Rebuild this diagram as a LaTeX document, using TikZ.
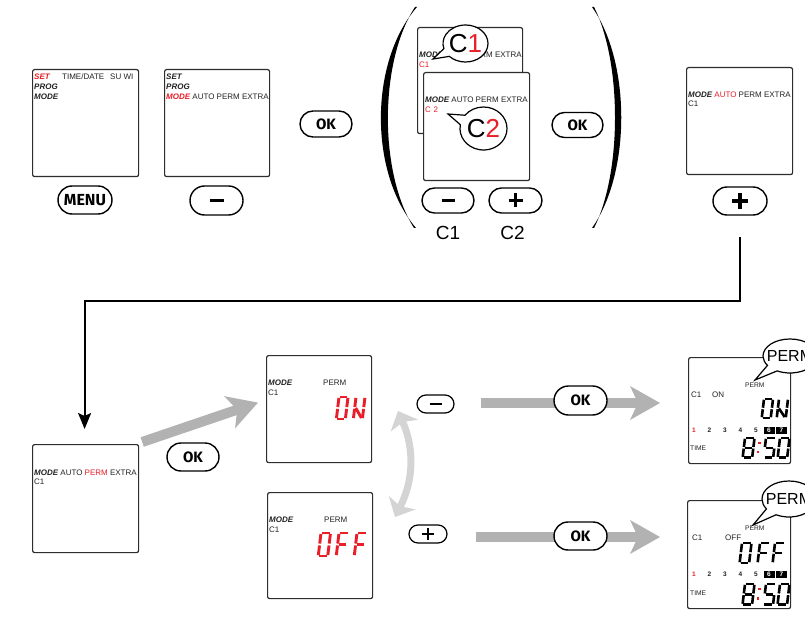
\documentclass[tikz,border=0pt]{standalone}
\usepackage{fontspec}
\setmainfont{Liberation Sans}
\newfontfamily\btnfont{Fira Sans}
\usetikzlibrary{shapes.misc,shapes.callouts,arrows.meta}
\definecolor{lcdred}{RGB}{232,30,40}
\definecolor{arrgray}{RGB}{178,178,178}
\definecolor{lightarr}{RGB}{212,212,212}
\definecolor{frame}{RGB}{45,45,45}
\definecolor{txtdark}{RGB}{35,35,35}
\newcommand{\scrfont}{\fontsize{8}{9}\selectfont}
\newcommand{\smallscr}{\fontsize{6.7}{8}\selectfont}
\newcommand{\bi}[1]{{\bfseries\itshape #1}}
\newcommand{\menufont}{\btnfont\bfseries\fontsize{16}{16}\selectfont}
\newcommand{\okfont}{\btnfont\bfseries\fontsize{15}{15}\selectfont}
% seven segment pieces (local units: width 1, height 2, y downwards)
\def\segA{\draw[seg] (0.1,0)--(0.9,0);}
\def\segB{\draw[seg] (1,0.08)--(1,0.92);}
\def\segC{\draw[seg] (1,1.08)--(1,1.92);}
\def\segD{\draw[seg] (0.1,2)--(0.9,2);}
\def\segE{\draw[seg] (0,1.08)--(0,1.92);}
\def\segF{\draw[seg] (0,0.08)--(0,0.92);}
\def\segG{\draw[seg] (0.1,1)--(0.9,1);}
\def\segN{\draw[seg] (0.12,1.0)--(0.88,1.9);}
\newcommand{\sevseg}[6][lcdred]{%
  \begin{scope}[shift={(#2,#3)},x=#4pt,y=-#5pt,xslant=0.12,color=#1]
    \foreach \s in {#6}{\csname seg\s\endcsname}
  \end{scope}}
\newcommand{\minusin}[3]{\draw[line width=#3pt] ([xshift=-#2pt]#1.center) -- ([xshift=#2pt]#1.center);}
\newcommand{\plusin}[3]{\minusin{#1}{#2}{#3}\draw[line width=#3pt] ([yshift=-#2pt]#1.center) -- ([yshift=#2pt]#1.center);}
\newcommand{\dayrow}[2]{%
  \node[day, text=lcdred] (#2d1) at (694,#1) {1};
  \node[day] (#2d2) at (709.5,#1) {2};
  \node[day] (#2d3) at (725,#1) {3};
  \node[day] (#2d4) at (740.5,#1) {4};
  \node[day] (#2d5) at (756,#1) {5};
  \node[daybox] (#2d6) at (769,#1) {6};
  \node[daybox] (#2d7) at (781.5,#1) {7};}
\begin{document}
\begin{tikzpicture}[x=1pt,y=-1pt,
  scr/.style={draw=frame, line width=1.2pt, rounded corners=2pt, fill=white, anchor=north west, inner sep=0pt},
  st/.style={anchor=west, inner sep=0pt, font=\scrfont, text=txtdark},
  sst/.style={anchor=west, inner sep=0pt, font=\smallscr, text=txtdark},
  btn/.style={draw=black, line width=1.4pt, rounded rectangle, fill=white, inner sep=0pt},
  okbtn/.style={btn, font=\okfont},
  lbl/.style={inner sep=0pt, font=\fontsize{19}{19}\selectfont},
  seg/.style={line width=2.9pt, line cap=butt},
  day/.style={inner sep=0pt, font=\bfseries\fontsize{6.5}{7}\selectfont, text=txtdark},
  daybox/.style={day, fill=black, text=white, minimum width=11pt, minimum height=7pt},
  bubble/.style={ellipse callout, draw=black, line width=1.2pt, fill=white, inner sep=0pt, callout pointer arc=28},
  bubtxt/.style={inner sep=0pt, font=\fontsize{26}{26}\selectfont},
  permtxt/.style={inner sep=0pt, font=\fontsize{16}{16}\selectfont},
  garrow/.style={draw=arrgray, line width=10pt, -{Stealth[length=30pt,width=34pt,inset=8pt,line width=0pt]}},
  carrow/.style={draw=lightarr, line width=7pt, {Stealth[length=16pt,width=30pt,inset=4pt,line width=0pt]}-{Stealth[length=16pt,width=30pt,inset=4pt,line width=0pt]}},
  conn/.style={draw=black, line width=2pt, line join=miter, -{Stealth[length=16pt,width=13pt,inset=3pt]}}
]
\useasboundingbox (0,0) rectangle (805,620);

% ---------- top row ----------
\node[scr, minimum width=106pt, minimum height=107pt] (s1) at (32,69) {};
\node[st] (s1a) at (34,77) {\textcolor{lcdred}{\bi{SET}}};
\node[st] (s1b) at (62,77) {TIME/DATE};
\node[st] (s1c) at (110,77) {SU WI};
\node[st] (s1d) at (34,87) {\bi{PROG}};
\node[st] (s1e) at (34,97) {\bi{MODE}};
\node[btn, minimum width=54pt, minimum height=28pt, font=\menufont] (menu) at (85,200) {MENU};

\node[scr, minimum width=105pt, minimum height=107pt] (s2) at (164,69) {};
\node[st] (s2a) at (166,77) {\bi{SET}};
\node[st] (s2b) at (166,87) {\bi{PROG}};
\node[st] (s2c) at (166,97) {\textcolor{lcdred}{\bi{MODE}} AUTO PERM EXTRA};
\node[btn, minimum width=53pt, minimum height=29pt] (mn2) at (216.5,200.5) {};
\minusin{mn2}{7}{3.6}

\node[okbtn, minimum width=52pt, minimum height=26pt] (ok1) at (326,124) {OK};

% parentheses
\fill (417,7) .. controls (369,62) and (369,173) .. (416,228)
  -- (414,228) .. controls (379,173) and (379,62) .. (415,7) -- cycle;
\fill (592,7) .. controls (631,62) and (631,173) .. (592,228)
  -- (594,228) .. controls (622,173) and (622,62) .. (594,7) -- cycle;

\node[scr, minimum width=105pt, minimum height=106pt] (s3b) at (417,27) {};
\node[st] (s3ba) at (419,55) {\bi{MODE} AUTO PERM EXTRA};
\node[st, text=lcdred] (s3bb) at (419,65) {C1};
\node[scr, minimum width=106pt, minimum height=108pt] (s3f) at (423,72) {};
\node[st] (s3fa) at (425,100) {\bi{MODE} AUTO PERM EXTRA};
\node[st, text=lcdred] (s3fb) at (425,110) {C\,\,2};
\node[bubble, callout absolute pointer={(433,59)}, minimum width=45pt, minimum height=37pt] (b1) at (465.5,43.5) {};
\node[bubtxt] (b1t) at (b1.center) {C\textcolor{lcdred}{1}};
\node[bubble, callout absolute pointer={(448,114)}, minimum width=47pt, minimum height=43pt] (b2) at (483.5,128.5) {};
\node[bubtxt] (b2t) at (b2.center) {C\textcolor{lcdred}{2}};

\node[btn, minimum width=52pt, minimum height=25pt] (mn3) at (448,200.5) {};
\minusin{mn3}{6.5}{3.5}
\node[btn, minimum width=53pt, minimum height=25pt] (pl3) at (515.5,200.5) {};
\plusin{pl3}{7}{3.3}
\node[lbl] (lc1) at (448,233) {C1};
\node[lbl] (lc2) at (512.5,233) {C2};

\node[okbtn, minimum width=51pt, minimum height=25pt] (ok2) at (577.5,125) {OK};

\node[scr, minimum width=106pt, minimum height=107pt] (s4) at (686,67) {};
\node[st] (s4a) at (688,95) {\bi{MODE} \textcolor{lcdred}{AUTO} PERM EXTRA};
\node[st] (s4b) at (688,104) {C1};
\node[btn, minimum width=54pt, minimum height=28pt] (pl4) at (740,201) {};
\plusin{pl4}{8}{3.5}

% ---------- connector ----------
\coordinate (c0) at (740,237);
\node[scr, minimum width=106pt, minimum height=108pt] (s5) at (32,444) {};
\draw[conn] (c0) -- ++(0,64) -| ([xshift=-1pt,yshift=15pt]s5.north);

% ---------- bottom row ----------
\node[st] (s5a) at (34,473) {\bi{MODE} AUTO \textcolor{lcdred}{PERM} EXTRA};
\node[st] (s5b) at (34,482) {C1};

\node[scr, minimum width=105pt, minimum height=107pt] (s6) at (266,355) {};
\node[st] (s6a) at (268,383) {\bi{MODE}};
\node[st] (s6b) at (323,383) {PERM};
\node[st] (s6c) at (268,393) {C1};
\sevseg{339}{397}{9}{11}{A,B,C,D,E,F}
\sevseg{356}{397}{9}{11}{B,C,E,F,N}

\node[scr, minimum width=105pt, minimum height=106pt] (s7) at (267,492) {};
\node[st] (s7a) at (269,520) {\bi{MODE}};
\node[st] (s7b) at (324,520) {PERM};
\node[st] (s7c) at (269,530) {C1};
\sevseg{321}{533}{9.5}{11.5}{A,B,C,D,E,F}
\sevseg{339}{533}{9.5}{11.5}{A,E,F,G}
\sevseg{357}{533}{9.5}{11.5}{A,E,F,G}

\draw[garrow] ([shift={(3,-2)}]s5.north east) -- ([shift={(-8,-6.5)}]s6.west);
\node[okbtn, minimum width=52pt, minimum height=28pt] (ok5) at (193,457) {OK};

\node[btn, line width=1.2pt, minimum width=37pt, minimum height=18pt] (mn6) at (435.5,404) {};
\minusin{mn6}{6}{2.2}
\node[btn, line width=1.2pt, minimum width=38pt, minimum height=18pt] (pl7) at (428,534) {};
\plusin{pl7}{6}{2}

\coordinate (ct) at (398,411);
\coordinate (cb) at (395,517);
\draw[carrow] (ct) to[bend left=25] (cb);

\node[scr, minimum width=102pt, minimum height=106pt] (s8) at (688,357) {};
\node[scr, minimum width=103pt, minimum height=108pt] (s9) at (687,500) {};

\draw[garrow, shorten <=26pt, shorten >=28pt] ([yshift=1pt]mn6.east) -- ([yshift=1pt]mn6.east -| s8.west);
\draw[garrow, shorten <=28pt, shorten >=27pt] ([yshift=-3pt]pl7.east) -- ([yshift=-3pt]pl7.east -| s9.west);
\node[okbtn, minimum width=53pt, minimum height=29pt] (ok6) at (580.5,400.5) {OK};
\node[okbtn, minimum width=53pt, minimum height=28pt] (ok7) at (580.5,536) {OK};

% right screen ON
\begin{scope}[seg/.style={line width=2.6pt, line cap=butt}]
\node[sst] (s8a) at (745,385) {PERM};
\node[st] (s8b) at (691,395) {C1};
\node[st] (s8c) at (712,395) {ON};
\sevseg[black]{764}{399}{9}{9.5}{A,B,C,D,E,F}
\sevseg[black]{779}{399}{9}{9.5}{B,C,E,F,N}
\dayrow{430}{r8}
\node[sst] (s8t) at (690,448) {TIME};
\sevseg[black]{745}{438}{9.5}{9.8}{A,B,C,D,E,F,G}
\fill[lcdred] (758,441.5) rectangle ++(2.6,2.6);
\fill[lcdred] (756.8,450.5) rectangle ++(2.6,2.6);
\sevseg[black]{766}{438}{9.5}{9.8}{A,C,D,F,G}
\sevseg[black]{780}{438}{9.5}{9.8}{A,B,C,D,E,F}
\node[bubble, callout absolute pointer={(755,380)}, minimum width=54pt, minimum height=34pt] (b8) at (790,356) {};
\node[permtxt] (b8t) at (790,355.5) {PERM};

% right screen OFF
\node[sst] (s9a) at (745,528) {PERM};
\node[st] (s9b) at (692,538) {C1};
\node[st] (s9c) at (725,538) {OFF};
\sevseg[black]{742}{543}{9.5}{10}{A,B,C,D,E,F}
\sevseg[black]{760}{543}{9.5}{10}{A,E,F,G}
\sevseg[black]{775}{543}{9.5}{10}{A,E,F,G}
\dayrow{574}{r9}
\node[sst] (s9t) at (690,593) {TIME};
\sevseg[black]{745}{584}{9.5}{10.3}{A,B,C,D,E,F,G}
\fill[lcdred] (758,587.5) rectangle ++(2.6,2.6);
\fill[lcdred] (756.8,597) rectangle ++(2.6,2.6);
\sevseg[black]{766}{584}{9.5}{10.3}{A,C,D,F,G}
\sevseg[black]{780}{584}{9.5}{10.3}{A,B,C,D,E,F}
\node[bubble, callout absolute pointer={(753,525)}, minimum width=54pt, minimum height=36pt] (b9) at (789,499) {};
\node[permtxt] (b9t) at (789,498.5) {PERM};
\end{scope}
\end{tikzpicture}
\end{document}
